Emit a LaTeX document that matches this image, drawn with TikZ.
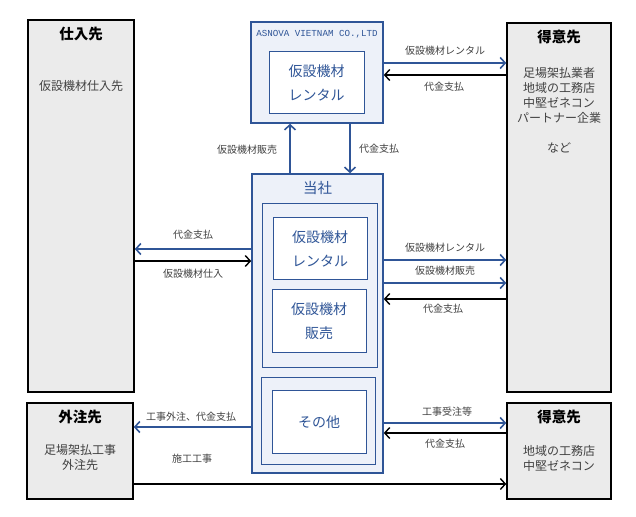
\documentclass[tikz,border=0pt]{standalone}
\usepackage{fontspec}
\setmainfont{Noto Sans CJK JP}
\setmonofont{Liberation Mono}
\usetikzlibrary{arrows.meta}
\definecolor{bl}{HTML}{2F5597}
\definecolor{lb}{HTML}{EDF1F9}
\definecolor{gy}{HTML}{EBEBEB}
\definecolor{tx}{HTML}{404040}
\tikzset{
  gbox/.style={draw=black, line width=1.5pt, fill=gy, inner sep=0pt},
  bbox/.style={draw=bl, line width=1.6pt, fill=lb, inner sep=0pt},
  grpbox/.style={draw=bl, line width=0.9pt, fill=lb, inner sep=0pt},
  ibox/.style={draw=bl, line width=1pt, fill=white, inner sep=0pt},
  ttl/.style={font=\fontsize{14.5}{16}\selectfont\bfseries, text=black},
  btxt/.style={font=\fontsize{14}{24}\selectfont, text=bl, align=center},
  gtxt/.style={font=\fontsize{12}{15}\selectfont, text=tx, align=center},
  lbl/.style={font=\fontsize{10}{11}\selectfont, text=tx},
  barrow/.style={draw=bl, line width=1.6pt, -{Straight Barb[length=5pt,width=11pt]}},
  karrow/.style={draw=black, line width=1.4pt, -{Straight Barb[length=5pt,width=11pt]}}
}
\begin{document}
\begin{tikzpicture}[x=1pt,y=-1pt]
\useasboundingbox (0,0) rectangle (636,516);
% outer boxes
\node[gbox, minimum width=106pt, minimum height=372pt] (shiire) at (81,206) {};
\node[ttl] (shiireT) at (81,34) {仕入先};
\node[gtxt] (shiireX) at (81,86) {仮設機材仕入先};

\node[gbox, minimum width=106pt, minimum height=96pt] (gaichu) at (80,451) {};
\node[ttl] (gaichuT) at (80,417) {外注先};
\node[gtxt] (gaichuX) at (80,457) {足場架払工事\\外注先};

\node[gbox, minimum width=104pt, minimum height=369pt] (tokui1) at (559,207.5) {};
\node[ttl] (tokui1T) at (559,37) {得意先};
\node[gtxt, anchor=north] (tokui1X) at (559,64) {足場架払業者\\地域の工務店\\中堅ゼネコン\\パートナー企業\\ \\など};

\node[gbox, minimum width=104pt, minimum height=96pt] (tokui2) at (559,451) {};
\node[ttl] (tokui2T) at (559,417) {得意先};
\node[gtxt] (tokui2X) at (559,458) {地域の工務店\\中堅ゼネコン};

% ASNOVA
\node[bbox, minimum width=132pt, minimum height=101pt] (asnova) at (317,72.5) {};
\node[font=\ttfamily\fontsize{9.2}{10}\selectfont, text=bl] (asnovaT) at (317,34) {ASNOVA VIETNAM CO.,LTD};
\node[ibox, minimum width=95pt, minimum height=61pt] (asnovaR) at (316.5,82.5) {};
\node[btxt] (asnovaRT) at (316.5,83) {仮設機材\\レンタル};

% Toshi
\node[bbox, minimum width=131pt, minimum height=299pt] (toshi) at (317.5,323.5) {};
\node[font=\fontsize{14.5}{16}\selectfont, text=bl] (toshiT) at (317.5,188) {当社};
\node[grpbox, minimum width=115pt, minimum height=164pt] (grp1) at (319.5,285) {};
\node[ibox, minimum width=94pt, minimum height=62pt] (rent) at (320,248) {};
\node[btxt] (rentT) at (320,249) {仮設機材\\レンタル};
\node[ibox, minimum width=94pt, minimum height=63pt] (hanbai) at (319,320.5) {};
\node[btxt] (hanbaiT) at (319,321.5) {仮設機材\\販売};
\node[grpbox, minimum width=114pt, minimum height=87pt] (grp2) at (318,420.5) {};
\node[ibox, minimum width=94pt, minimum height=63pt] (sonota) at (319,421.5) {};
\node[btxt] (sonotaT) at (319,422) {その他};

% ASNOVA <-> toshi
\draw[barrow] (toshi.north -| 290,0) -- (asnova.south -| 290,0);
\node[lbl] (l1) at (247,150) {仮設機材販売};
\draw[barrow] (asnova.south -| 350,0) -- (toshi.north -| 350,0);
\node[lbl] (l2) at (379,149) {代金支払};

% ASNOVA <-> tokui1
\draw[barrow] (asnova.east |- 0,63) -- (tokui1.west |- 0,63);
\node[lbl] (l3) at (445,51) {仮設機材レンタル};
\draw[karrow] (tokui1.west |- 0,75) -- (asnova.east |- 0,75);
\node[lbl] (l4) at (444,87) {代金支払};

% shiire <-> toshi
\draw[barrow] (toshi.west |- 0,249) -- (shiire.east |- 0,249);
\node[lbl] (l5) at (193,235) {代金支払};
\draw[karrow] (shiire.east |- 0,261) -- (toshi.west |- 0,261);
\node[lbl] (l6) at (193,274) {仮設機材仕入};

% toshi <-> tokui1
\draw[barrow] (toshi.east |- 0,260) -- (tokui1.west |- 0,260);
\node[lbl] (l7) at (445,248) {仮設機材レンタル};
\draw[barrow] (toshi.east |- 0,283) -- (tokui1.west |- 0,283);
\node[lbl] (l8) at (445,271) {仮設機材販売};
\draw[karrow] (tokui1.west |- 0,299) -- (toshi.east |- 0,299);
\node[lbl] (l9) at (443,309) {代金支払};

% toshi -> gaichu
\draw[barrow] (toshi.west |- 0,427) -- (gaichu.east |- 0,427);
\node[lbl] (l10) at (191,417) {工事外注、代金支払};
\node[lbl] (l11) at (192,459) {施工工事};
\draw[karrow] (gaichu.east |- 0,484) -- (tokui2.west |- 0,484);

% toshi <-> tokui2
\draw[barrow] (toshi.east |- 0,423) -- (tokui2.west |- 0,423);
\node[lbl] (l12) at (447,412) {工事受注等};
\draw[karrow] (tokui2.west |- 0,433) -- (toshi.east |- 0,433);
\node[lbl] (l13) at (445,444) {代金支払};
\end{tikzpicture}
\end{document}
